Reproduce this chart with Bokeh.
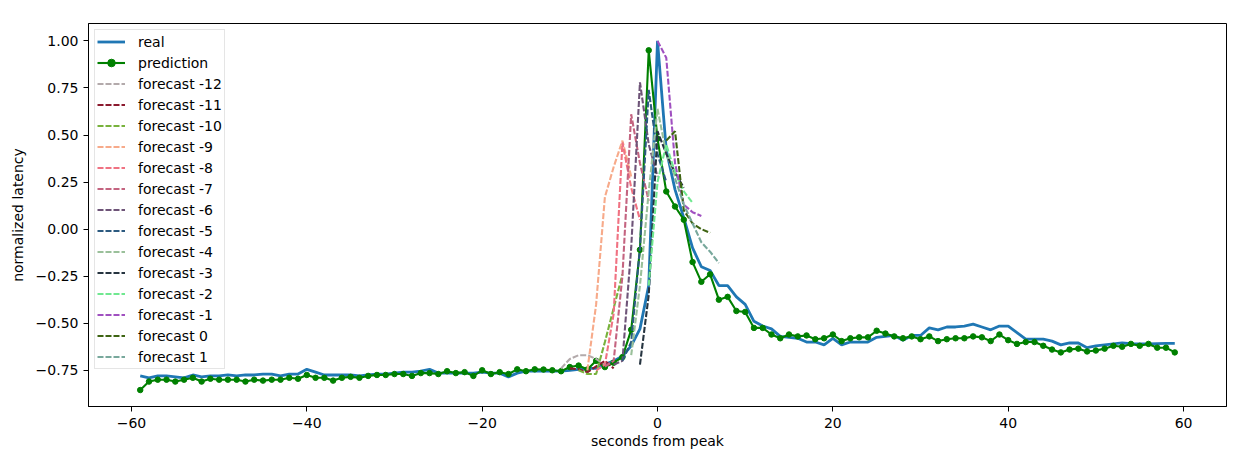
import numpy as np
from bokeh.plotting import figure
from bokeh.models import Range1d, FixedTicker, CustomJSTickFormatter
from bokeh.embed import file_html
from bokeh.resources import INLINE

# ---------------- data ----------------
seconds = list(range(-59, 60))

real = [
    -0.78, -0.79, -0.78, -0.78, -0.785, -0.79, -0.775, -0.785, -0.78, -0.78,       # -59..-50
    -0.775, -0.78, -0.775, -0.775, -0.77, -0.77, -0.78, -0.77, -0.77, -0.745,      # -49..-40
    -0.76, -0.775, -0.775, -0.775, -0.775, -0.78, -0.775, -0.77, -0.77, -0.765,    # -39..-30
    -0.76, -0.76, -0.755, -0.745, -0.765, -0.765, -0.765, -0.765, -0.765, -0.76,   # -29..-20
    -0.765, -0.765, -0.785, -0.765, -0.755, -0.755, -0.755, -0.755, -0.755, -0.75, # -19..-10
    -0.745, -0.74, -0.74, -0.72, -0.70, -0.675, -0.62, -0.53, -0.30,               # -9..-1
    1.00,                                                                           # 0
    0.42, 0.21, 0.06, -0.10, -0.20, -0.22, -0.30, -0.30, -0.36, -0.40,             # 1..10
    -0.49, -0.515, -0.53, -0.57, -0.575, -0.58, -0.60, -0.60, -0.615, -0.58,       # 11..20
    -0.615, -0.60, -0.60, -0.60, -0.575, -0.57, -0.565, -0.59, -0.565, -0.565,     # 21..30
    -0.525, -0.535, -0.52, -0.52, -0.515, -0.505, -0.52, -0.535, -0.515, -0.515,   # 31..40
    -0.55, -0.585, -0.585, -0.585, -0.595, -0.615, -0.605, -0.605, -0.63, -0.62,   # 41..50
    -0.615, -0.61, -0.605, -0.608, -0.61, -0.61, -0.608, -0.607, -0.607,           # 51..59
]

prediction = [
    -0.855, -0.81, -0.80, -0.80, -0.81, -0.80, -0.79, -0.81, -0.795, -0.80,        # -59..-50
    -0.80, -0.80, -0.81, -0.80, -0.805, -0.80, -0.80, -0.79, -0.795, -0.775,       # -49..-40
    -0.79, -0.79, -0.805, -0.79, -0.785, -0.79, -0.78, -0.775, -0.775, -0.77,      # -39..-30
    -0.77, -0.78, -0.765, -0.765, -0.77, -0.755, -0.765, -0.76, -0.78, -0.75,      # -29..-20
    -0.77, -0.76, -0.77, -0.745, -0.755, -0.745, -0.746, -0.75, -0.755, -0.733,    # -19..-10
    -0.725, -0.746, -0.70, -0.733, -0.71, -0.68, -0.535, -0.11, 0.95,              # -9..-1
    0.48,                                                                           # 0
    0.20, 0.12, 0.05, -0.175, -0.28, -0.24, -0.375, -0.36, -0.435, -0.44,          # 1..10
    -0.525, -0.525, -0.56, -0.58, -0.56, -0.57, -0.565, -0.585, -0.58, -0.56,      # 11..20
    -0.595, -0.58, -0.575, -0.575, -0.54, -0.555, -0.57, -0.58, -0.57, -0.585,     # 21..30
    -0.57, -0.595, -0.585, -0.58, -0.58, -0.57, -0.575, -0.595, -0.56, -0.59,      # 31..40
    -0.61, -0.60, -0.60, -0.62, -0.64, -0.655, -0.64, -0.635, -0.65, -0.645,       # 41..50
    -0.635, -0.62, -0.625, -0.61, -0.62, -0.61, -0.63, -0.63, -0.655,              # 51..59
]

# forecasts made at second k cover seconds k+1 .. k+6
forecast_ids = [-12, -11, -10, -9, -8, -7, -6, -5, -4, -3, -2, -1, 0, 1]
forecast_values = [
    [-0.74, -0.69, -0.67, -0.67, -0.69, -0.72],
    [-0.74, -0.745, -0.76, -0.73, -0.70, -0.74],
    [-0.75, -0.77, -0.77, -0.60, -0.42, -0.24],
    [-0.75, -0.40, 0.17, 0.33, 0.47, 0.28],
    [-0.75, -0.72, -0.45, 0.46, 0.22, 0.05],
    [-0.73, -0.70, -0.25, 0.61, 0.35, 0.15],
    [-0.72, -0.70, -0.10, 0.78, 0.45, 0.28],
    [-0.70, -0.60, -0.10, 0.74, 0.40, 0.25],
    [-0.67, -0.30, 0.20, 0.64, 0.40, 0.28],
    [-0.72, -0.35, 0.52, 0.40, 0.30, 0.22],
    [-0.30, 0.25, 0.45, 0.30, 0.20, 0.14],
    [1.00, 0.91, 0.35, 0.13, 0.09, 0.07],
    [0.47, 0.52, 0.10, 0.03, 0.00, -0.02],
    [0.27, 0.13, 0.03, -0.07, -0.12, -0.18],
]
forecast_colors = [
    "#b3aaab", "#8b1a2e", "#78b23c", "#f7aa8a", "#f07282", "#c46480", "#6e5478",
    "#2c5a80", "#9ac09a", "#263440", "#70e890", "#a050c0", "#3e6412", "#78a89c",
]

x_ticks = [-60, -40, -20, 0, 20, 40, 60]
y_ticks = [-0.75, -0.5, -0.25, 0.0, 0.25, 0.5, 0.75, 1.0]

# ---------------- figure ----------------
FONT = "DejaVu Sans"
FS = "14px"
p = figure(
    frame_width=1138, frame_height=383,
    x_range=Range1d(-64.9, 64.9), y_range=Range1d(-0.9425, 1.0925),
    output_backend="svg", toolbar_location=None,
    min_border_left=88, min_border_top=23, min_border_right=8, min_border_bottom=2,
)
p.xgrid.visible = False
p.ygrid.visible = False
p.outline_line_color = "black"
p.outline_line_alpha = 1
p.outline_line_width = 1
p.background_fill_color = "white"
p.border_fill_color = "white"

p.xaxis.ticker = FixedTicker(ticks=x_ticks)
p.yaxis.ticker = FixedTicker(ticks=y_ticks)
p.xaxis.formatter = CustomJSTickFormatter(code="return tick.toFixed(0).replace('-', '\u2212');")
p.yaxis.formatter = CustomJSTickFormatter(code="return tick.toFixed(2).replace('-', '\u2212');")
p.xaxis.axis_label = "seconds from peak"
p.yaxis.axis_label = "normalized latency"
for ax in (p.xaxis[0], p.yaxis[0]):
    ax.axis_line_color = "black"
    ax.major_tick_line_color = "black"
    ax.major_tick_out = 5
    ax.major_tick_in = 0
    ax.minor_tick_out = 0
    ax.minor_tick_in = 0
    ax.major_label_text_font = FONT
    ax.major_label_text_font_size = FS
    ax.major_label_text_color = "black"
    ax.axis_label_text_font = FONT
    ax.axis_label_text_font_size = FS
    ax.axis_label_text_font_style = "normal"
    ax.axis_label_text_color = "black"
p.xaxis.major_label_standoff = 6
p.xaxis.axis_label_standoff = 2
p.yaxis.major_label_standoff = 5
p.yaxis.axis_label_standoff = 7

p.line(seconds, real, line_color="#1f77b4", line_width=2.8, legend_label="real")
p.line(seconds, prediction, line_color="green", line_width=2.1, legend_label="prediction")
p.scatter(seconds, prediction, size=5.5, color="green", legend_label="prediction")

for k, vals, col in zip(forecast_ids, forecast_values, forecast_colors):
    xs = np.arange(k + 1, k + 1 + len(vals))
    p.line(xs, vals, line_color=col, line_width=2.1, line_dash="6 2",
           legend_label=f"forecast {k}")

lg = p.legend[0]
lg.location = "top_left"
lg.margin = 6
lg.padding = 2
lg.spacing = 2
lg.label_height = 19
lg.glyph_height = 19
lg.glyph_width = 28
lg.label_standoff = 13
lg.label_text_font = FONT
lg.label_text_font_size = FS
lg.label_text_color = "black"
lg.border_line_color = "#cccccc"
lg.border_line_width = 1
lg.background_fill_alpha = 0.8

open("out.html", "w").write(file_html(p, INLINE))
